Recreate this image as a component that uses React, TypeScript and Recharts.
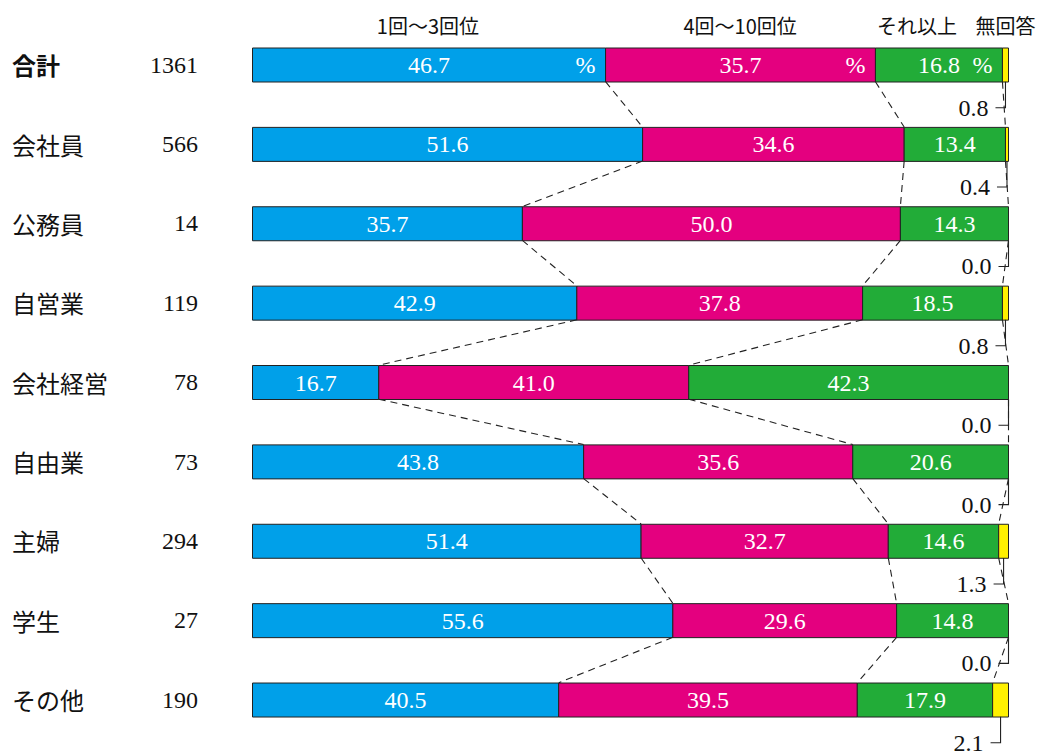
import React from "react";
import {
  BarChart,
  Bar,
  XAxis,
  YAxis,
  LabelList,
  ReferenceLine,
  ReferenceDot,
} from "recharts";

/** Row labels and sample sizes. */
const CATEGORIES = ["合計", "会社員", "公務員", "自営業", "会社経営", "自由業", "主婦", "学生", "その他"];
const COUNTS = [1361, 566, 14, 119, 78, 73, 294, 27, 190];

/** Percentages per answer group. */
const LOW = [46.7, 51.6, 35.7, 42.9, 16.7, 43.8, 51.4, 55.6, 40.5];
const MID = [35.7, 34.6, 50.0, 37.8, 41.0, 35.6, 32.7, 29.6, 39.5];
const HIGH = [16.8, 13.4, 14.3, 18.5, 42.3, 20.6, 14.6, 14.8, 17.9];
const NONE = [0.8, 0.4, 0.0, 0.8, 0.0, 0.0, 1.3, 0.0, 2.1];

/** Header labels and where they sit on the percent axis. */
const HEADERS = ["1回～3回位", "4回～10回位", "それ以上", "無回答"];
const HEADER_POS = [23.2, 64.5, 87.9, 99.6];

const COLORS = ["#00a0e9", "#e4007f", "#22ac38", "#fff100"];
const SERIF = "'Liberation Serif', 'DejaVu Serif', serif";
const JP = "'Noto Sans CJK JP', sans-serif";

const W = 1043;
const H = 751;
const BAR = 34;
const HALF = BAR / 2;
// no-answer label sits this far below the row centre (px)
const NA_DY = 43;

const data = CATEGORIES.map((name, i) => ({
  name,
  low: LOW[i],
  mid: MID[i],
  high: HIGH[i],
  none: NONE[i],
}));

function makeLabel(showPct: boolean) {
  return (props: any) => {
    const { x, y, width, height, value, index } = props;
    const cy = y + height / 2;
    return (
      <g>
        <text
          x={x + width / 2}
          y={cy}
          fill="#fff"
          fontFamily={SERIF}
          fontSize={24}
          textAnchor="middle"
          dominantBaseline="central"
        >
          {Number(value).toFixed(1)}
        </text>
        {showPct && index === 0 && (
          <text
            x={x + width - 20}
            y={cy}
            fill="#fff"
            fontFamily={SERIF}
            fontSize={24}
            textAnchor="middle"
            dominantBaseline="central"
          >
            %
          </text>
        )}
      </g>
    );
  };
}

function CategoryTick(props: any) {
  const { y, payload, index } = props;
  return (
    <g>
      <text
        x={12}
        y={y}
        fontFamily={JP}
        fontSize={24}
        fontWeight={index === 0 ? 700 : 400}
        fill="#111"
        dominantBaseline="central"
      >
        {payload.value}
      </text>
      <text
        x={198}
        y={y}
        fontFamily={SERIF}
        fontSize={24}
        fill="#111"
        textAnchor="end"
        dominantBaseline="central"
      >
        {COUNTS[index]}
      </text>
    </g>
  );
}

function HeaderTick(props: any) {
  const { x, index } = props;
  return (
    <text
      x={x}
      y={25}
      fontFamily={JP}
      fontSize={20}
      fill="#111"
      textAnchor="middle"
      dominantBaseline="central"
    >
      {HEADERS[index]}
    </text>
  );
}

// line between two rows, from the bottom edge of the upper bar to the top edge of the lower bar
const dashedShape = (p: any) => (
  <line
    x1={p.x1}
    y1={p.y1 + HALF}
    x2={p.x2}
    y2={p.y2 - HALF}
    stroke="#222"
    strokeWidth={1.1}
    strokeDasharray="7 5"
  />
);

// bracket from the bottom of the yellow segment down to the label
const bracketShape = (p: any) => (
  <path
    d={`M${p.x1},${p.y1 + HALF}V${p.y1 + NA_DY}H${p.x1 - 10}`}
    fill="none"
    stroke="#222"
    strokeWidth={1.1}
  />
);

const b1 = LOW;
const b2 = LOW.map((v, i) => v + MID[i]);
const b3 = NONE.map((v) => 100 - v);
const boundaries = [b1, b2, b3];

export default function App() {
  const dashes: React.ReactNode[] = [];
  boundaries.forEach((b, k) => {
    for (let i = 0; i < b.length - 1; i++) {
      dashes.push(
        <ReferenceLine
          key={`d${k}-${i}`}
          yAxisId="cat"
          ifOverflow="visible"
          segment={[
            { x: b[i], y: CATEGORIES[i] },
            { x: b[i + 1], y: CATEGORIES[i + 1] },
          ]}
          shape={dashedShape}
        />
      );
    }
  });

  const brackets: React.ReactNode[] = [];
  NONE.forEach((v, i) => {
    const xc = 100 - v / 2;
    brackets.push(
      <ReferenceLine
        key={`b${i}`}
        yAxisId="cat"
        ifOverflow="visible"
        segment={[
          { x: xc, y: CATEGORIES[i] },
          { x: xc, y: CATEGORIES[i] },
        ]}
        shape={bracketShape}
      />,
      <ReferenceDot
        key={`t${i}`}
        yAxisId="cat"
        ifOverflow="visible"
        x={xc}
        y={CATEGORIES[i]}
        shape={(p: any) => (
          <text
            x={p.cx - 17}
            y={p.cy + NA_DY}
            fontFamily={SERIF}
            fontSize={24}
            fill="#111"
            textAnchor="end"
            dominantBaseline="central"
          >
            {v.toFixed(1)}
          </text>
        )}
      />
    );
  });

  return (
    <div style={{ position: "absolute", left: 0, top: 0, width: W, height: H, background: "#fff" }}>
      <BarChart
        width={W}
        height={H}
        data={data}
        layout="vertical"
        margin={{ top: 0, right: 34.5, bottom: 11.6, left: 7.5 }}
        barCategoryGap={0}
      >
        <XAxis
          type="number"
          orientation="top"
          domain={[0, 100]}
          ticks={HEADER_POS}
          interval={0}
          height={25}
          axisLine={false}
          tickLine={false}
          tick={<HeaderTick />}
        />
        <YAxis
          yAxisId="cat"
          type="category"
          dataKey="name"
          width={245}
          axisLine={false}
          tickLine={false}
          interval={0}
          tick={<CategoryTick />}
        />
        {dashes}
        <Bar yAxisId="cat" dataKey="low" stackId="a" fill={COLORS[0]} stroke="#222" strokeWidth={1} barSize={BAR} isAnimationActive={false}>
          <LabelList dataKey="low" content={makeLabel(true)} />
        </Bar>
        <Bar yAxisId="cat" dataKey="mid" stackId="a" fill={COLORS[1]} stroke="#222" strokeWidth={1} barSize={BAR} isAnimationActive={false}>
          <LabelList dataKey="mid" content={makeLabel(true)} />
        </Bar>
        <Bar yAxisId="cat" dataKey="high" stackId="a" fill={COLORS[2]} stroke="#222" strokeWidth={1} barSize={BAR} isAnimationActive={false}>
          <LabelList dataKey="high" content={makeLabel(true)} />
        </Bar>
        <Bar yAxisId="cat" dataKey="none" stackId="a" fill={COLORS[3]} stroke="#222" strokeWidth={1} barSize={BAR} isAnimationActive={false} />
        {brackets}
      </BarChart>
    </div>
  );
}
